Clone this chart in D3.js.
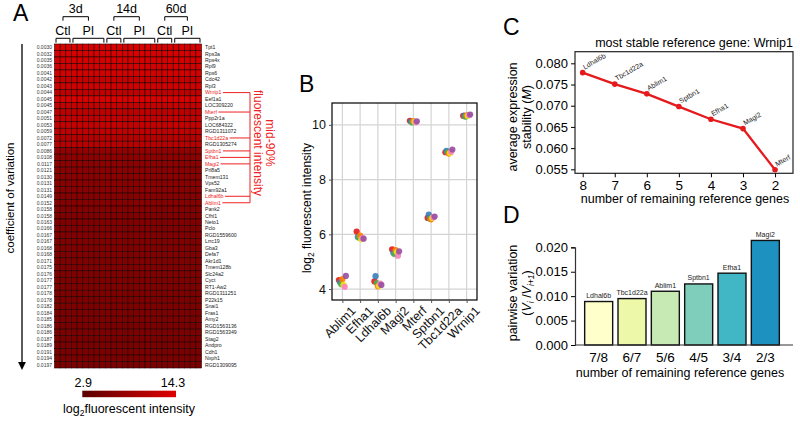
<!DOCTYPE html>
<html><head><meta charset="utf-8">
<script src="https://cdn.jsdelivr.net/npm/d3@7"></script>
<style>body{margin:0;background:#fff}svg{display:block;font-family:"Liberation Sans",Arial,sans-serif}</style>
</head><body><svg id="c" width="800" height="421"></svg>
<script>
// ---------- Panel A data ----------
const genes = ["Tpt1","Rps3a","Rps4x","Rpl9","Rps6","Cdc42","Rpl3","Wrnip1","Eef1a1","LOC309220","Mterf","Ppp2r1a","LOC684322","RGD1311072","Tbc1d22a","RGD1305274","Sptbn1","Efha1","Magi2","Prl8a5","Tmem131","Vps52","Fam92a1","Ldhal6b","Ablim1","Pank2","Cfhl1","Neto1","Pclo","RGD1559600","Lrrc19","Gba3","Defa7","Akr1d1","Tmem128b","Slc24a2","Cyct","RT1-Aw2","RGD1311251","P22k15","Snai1","Fras1","Amy2","RGD1563136","RGD1563349","Stag2","Andpro","Cdh1","Nxph1","RGD1309095"];
const cvLabels = ["0.0030","0.0032","0.0035","0.0036","0.0041","0.0042","0.0043","0.0044","0.0045","0.0045","0.0047","0.0051","0.0053","0.0059","0.0072","0.0077","0.0086","0.0108","0.0117","0.0121","0.0130","0.0131","0.0131","0.0149","0.0152","0.0158","0.0158","0.0163","0.0166","0.0167","0.0167","0.0168","0.0168","0.0171","0.0175","0.0176","0.0177","0.0177","0.0178","0.0178","0.0182","0.0184","0.0185","0.0186","0.0186","0.0187","0.0189","0.0191","0.0194","0.0197"];
const rowIntensity = [13.9,13.6,13.5,13.4,13.4,12.4,13.2,11.8,14.0,12.2,11.6,12.0,12.3,11.8,11.0,11.2,8.0,7.6,7.4,7.2,7.2,7.3,7.1,6.8,6.9,6.6,6.5,6.5,6.4,6.5,6.3,6.4,6.3,6.2,6.3,6.2,6.1,6.2,6.1,6.0,6.1,6.0,6.0,5.9,6.0,5.9,5.9,5.8,5.9,5.8];
const highlighted = ["Wrnip1","Mterf","Tbc1d22a","Sptbn1","Efha1","Magi2","Ldhal6b","Ablim1"];
const groupTimes = ["3d","3d","14d","14d","60d","60d"];
const groupConds = ["Ctl","PI","Ctl","PI","Ctl","PI"];
const groupSizes = [3,6,3,6,3,5];
const colorbarTicks = ["2.9","14.3"];
const colorDomain = [2.9, 14.3];

// ---------- Panel B data ----------
const refGenes = ["Ablim1","Efha1","Ldhal6b","Magi2","Mterf","Sptbn1","Tbc1d22a","Wrnip1"];
const sampleColors = ["#e41a1c","#377eb8","#4daf4a","#ff7f00","#f2e21a","#f781bf","#984ea3"];
const bValues = [
  [4.33,4.25,4.18,4.36,4.15,4.08,4.48],
  [6.10,5.90,5.88,5.95,5.82,5.86,5.84],
  [4.28,4.47,4.22,4.10,4.12,4.20,4.15],
  [5.45,5.32,5.28,5.42,5.35,5.22,5.38],
  [10.15,10.12,10.09,10.14,10.11,10.10,10.13],
  [6.60,6.72,6.57,6.55,6.60,6.62,6.65],
  [9.00,9.05,9.00,8.95,8.97,9.02,9.10],
  [10.33,10.34,10.30,10.35,10.33,10.36,10.38]
];
const bTicks = [4,6,8,10];

// ---------- Panel C data ----------
const cGenes = ["Ldhal6b","Tbc1d22a","Ablim1","Sptbn1","Efha1","Magi2","Mterf"];
const cNumbers = [8,7,6,5,4,3,2];
const cStability = [0.0778,0.0751,0.0728,0.0698,0.0668,0.0646,0.0549];
const cTicks = [0.055,0.060,0.065,0.070,0.075,0.080];

// ---------- Panel D data ----------
const dLabels = ["7/8","6/7","5/6","4/5","3/4","2/3"];
const dGenes = ["Ldhal6b","Tbc1d22a","Ablim1","Sptbn1","Efha1","Magi2"];
const dValues = [0.0089,0.0095,0.0110,0.0125,0.0147,0.0214];
const dColors = ["#ffffcc","#edf8a9","#c7e9b4","#7fcdbb","#41b6c4","#1d91c0"];
const dTicks = [0,0.005,0.010,0.015,0.020];

const RED = "#ee2222";
const svg = d3.select("#c");
svg.append("rect").attr("width",800).attr("height",421).attr("fill","#fff");

function panelLabel(t,x,y){svg.append("text").attr("x",x).attr("y",y).attr("font-size",23).text(t);}

// ================= Panel A =================
panelLabel("A",13,21);
const nCols = d3.sum(groupSizes);
const colIdx = d3.range(nCols);
const xA = d3.scaleBand().domain(colIdx).range([54.5,201.5]);
const yA = d3.scaleBand().domain(genes).range([44,368]);
const heatColor = d3.scaleLinear().domain(colorDomain).range(["#5a0000","#e00000"]);
const gA = svg.append("g");
genes.forEach((g,i)=>{
  gA.selectAll(null).data(colIdx).enter().append("rect")
    .attr("x",c=>xA(c)).attr("y",yA(g)).attr("width",xA.bandwidth()).attr("height",yA.bandwidth())
    .attr("fill",heatColor(rowIntensity[i])).attr("stroke","#220000").attr("stroke-width",0.6);
});
gA.selectAll(".cv").data(genes).enter().append("text")
  .attr("x",52).attr("y",g=>yA(g)+yA.bandwidth()/2+1.8).attr("text-anchor","end")
  .attr("font-size",5).attr("fill","#333").text((g,i)=>cvLabels[i]);
const geneText = gA.selectAll(".gn").data(genes).enter().append("text")
  .attr("x",205).attr("y",g=>yA(g)+yA.bandwidth()/2+1.8)
  .attr("font-size",5.2).attr("fill",g=>highlighted.includes(g)?RED:"#222").text(g=>g);
const bracketX = 250;
geneText.filter(g=>highlighted.includes(g)).each(function(g){
  const w = this.getComputedTextLength();
  gA.append("line").attr("x1",205+w+1.5).attr("x2",bracketX)
    .attr("y1",yA(g)+yA.bandwidth()/2).attr("y2",yA(g)+yA.bandwidth()/2)
    .attr("stroke",RED).attr("stroke-width",1);
});
const hY = highlighted.map(g=>yA(g)+yA.bandwidth()/2);
gA.append("line").attr("x1",bracketX).attr("x2",bracketX).attr("y1",d3.min(hY)).attr("y2",d3.max(hY))
  .attr("stroke",RED).attr("stroke-width",1);
const midT = gA.append("g").attr("transform",`translate(266,143) rotate(90)`);
midT.append("text").attr("text-anchor","middle").attr("y",0).attr("font-size",12).attr("fill",RED).text("mid-90%");
midT.append("text").attr("text-anchor","middle").attr("y",12).attr("font-size",12).attr("fill",RED).text("fluorescent intensity");

let start = 0;
const groupSpans = groupSizes.map(n=>{const s=start; start+=n; return [s,start-1];});
groupSpans.forEach((sp,i)=>{
  const x0 = xA(sp[0])+1.5, x1 = xA(sp[1])+xA.bandwidth()-1.5;
  gA.append("path").attr("d",`M${x0},42.7V38.3H${x1}V42.7`).attr("fill","none").attr("stroke","#000").attr("stroke-width",1);
  gA.append("text").attr("x",(x0+x1)/2).attr("y",35).attr("text-anchor","middle").attr("font-size",12.5).text(groupConds[i]);
});
const times = Array.from(new Set(groupTimes));
times.forEach(t=>{
  const idx = groupTimes.map((d,i)=>d===t?i:-1).filter(i=>i>=0);
  const cx = idx.map(i=>(xA(groupSpans[i][0])+xA(groupSpans[i][1])+xA.bandwidth())/2);
  const x0 = d3.min(cx), x1 = d3.max(cx);
  gA.append("path").attr("d",`M${x0},20.7V16.7H${x1}V20.7`).attr("fill","none").attr("stroke","#000").attr("stroke-width",1);
  gA.append("text").attr("x",(x0+x1)/2).attr("y",13.3).attr("text-anchor","middle").attr("font-size",12.5).text(t);
});
svg.append("defs").append("marker").attr("id","arr").attr("viewBox","0 0 10 10").attr("refX",5).attr("refY",5)
  .attr("markerWidth",6).attr("markerHeight",6).attr("orient","auto")
  .append("path").attr("d","M0,0L10,5L0,10z").attr("fill","#000");
gA.append("line").attr("x1",22).attr("x2",22).attr("y1",44).attr("y2",366).attr("stroke","#000").attr("stroke-width",1.3).attr("marker-end","url(#arr)");
gA.append("text").attr("transform","translate(14,198) rotate(-90)").attr("text-anchor","middle").attr("font-size",11.5).text("coefficient of variation");
const grad = svg.select("defs").append("linearGradient").attr("id","cbar");
grad.append("stop").attr("offset","0%").attr("stop-color",heatColor(colorDomain[0]));
grad.append("stop").attr("offset","100%").attr("stop-color",heatColor(colorDomain[1]));
const cbX = d3.scaleLinear().domain(colorDomain).range([82.3,176]);
gA.append("rect").attr("x",cbX(colorDomain[0])).attr("y",390.7).attr("width",cbX(colorDomain[1])-cbX(colorDomain[0])).attr("height",6.5).attr("fill","url(#cbar)");
gA.append("text").attr("x",cbX(colorDomain[0])+1).attr("y",386.5).attr("text-anchor","middle").attr("font-size",12.5).text(colorbarTicks[0]);
gA.append("text").attr("x",cbX(colorDomain[1])-3).attr("y",386.5).attr("text-anchor","middle").attr("font-size",12.5).text(colorbarTicks[1]);
const cbt = gA.append("text").attr("x",129).attr("y",413).attr("text-anchor","middle").attr("font-size",12.5);
cbt.append("tspan").text("log");
cbt.append("tspan").attr("font-size",8.5).attr("dy",3).text("2");
cbt.append("tspan").attr("dy",-3).text("fluorescent intensity");

// ================= Panel B =================
panelLabel("B",299,92);
const bL=332,bR=477,bT=103,bB=300;
const xB = d3.scalePoint().domain(refGenes).range([bL,bR]).padding(0.585);
const yB = d3.scaleLinear().domain([3.6,10.8]).range([bB,bT]);
const gB = svg.append("g");
gB.selectAll(".hg").data(bTicks).enter().append("line").attr("x1",bL).attr("x2",bR)
  .attr("y1",d=>yB(d)).attr("y2",d=>yB(d)).attr("stroke","#d4d4d4").attr("stroke-width",1.2);
gB.selectAll(".vg").data(refGenes).enter().append("line").attr("y1",bT).attr("y2",bB)
  .attr("x1",d=>xB(d)).attr("x2",d=>xB(d)).attr("stroke","#d4d4d4").attr("stroke-width",1.2);
const jit = d3.scalePoint().domain(d3.range(sampleColors.length)).range([-3.5,3.5]);
refGenes.forEach((g,i)=>{
  gB.selectAll(null).data(bValues[i]).enter().append("circle")
    .attr("cx",(v,j)=>xB(g)+jit(j)).attr("cy",v=>yB(v)).attr("r",3.1)
    .attr("fill",(v,j)=>sampleColors[j]).attr("fill-opacity",0.9);
});
gB.append("rect").attr("x",bL).attr("y",bT).attr("width",bR-bL).attr("height",bB-bT).attr("fill","none").attr("stroke","#000").attr("stroke-width",1.2);
const axBy = gB.append("g").attr("transform",`translate(${bL},0)`).call(d3.axisLeft(yB).tickValues(bTicks).tickSize(3).tickPadding(3));
axBy.select(".domain").remove();
axBy.selectAll("text").attr("font-size",12.5).attr("font-family","Liberation Sans, Arial, sans-serif").attr("fill","#111");
axBy.selectAll("line").attr("stroke","#555");
const axBx = gB.append("g").attr("transform",`translate(0,${bB})`).call(d3.axisBottom(xB).tickSize(3).tickPadding(3));
axBx.select(".domain").remove();
axBx.selectAll("line").attr("stroke","#555");
axBx.selectAll("text").attr("font-size",12.5).attr("font-family","Liberation Sans, Arial, sans-serif").attr("fill","#111")
  .attr("text-anchor","end").attr("transform","translate(4,2) rotate(-45)").attr("dy","0.6em");
const bt = gB.append("text").attr("transform","translate(311,208) rotate(-90)").attr("text-anchor","middle").attr("font-size",12);
bt.append("tspan").text("log");
bt.append("tspan").attr("font-size",8.5).attr("dy",3).text("2");
bt.append("tspan").attr("dy",-3).text(" fluorescent intensity");

// ================= Panel C =================
panelLabel("C",503,35);
const cL=575,cR=793,cT=51.7,cB=173.3;
const xC = d3.scaleLinear().domain([8.24,1.44]).range([cL,cR]);
const yC = d3.scaleLinear().domain([0.05406,0.08274]).range([cB,cT]);
const gC = svg.append("g");
gC.append("rect").attr("x",cL).attr("y",cT).attr("width",cR-cL).attr("height",cB-cT).attr("fill","none").attr("stroke","#222").attr("stroke-width",1.2);
const axCy = gC.append("g").attr("transform",`translate(${cL},0)`).call(d3.axisLeft(yC).tickValues(cTicks).tickFormat(d3.format(".3f")).tickSize(4).tickPadding(3));
axCy.select(".domain").remove();
axCy.selectAll("text").attr("font-size",13).attr("font-family","Liberation Sans, Arial, sans-serif");
const axCx = gC.append("g").attr("transform",`translate(0,${cB})`).call(d3.axisBottom(xC).tickValues(cNumbers).tickFormat(d3.format("d")).tickSize(4).tickPadding(3));
axCx.select(".domain").remove();
axCx.selectAll("text").attr("font-size",13.5).attr("font-family","Liberation Sans, Arial, sans-serif");
const lineC = d3.line().x((d,i)=>xC(cNumbers[i])).y(d=>yC(d));
gC.append("path").attr("d",lineC(cStability)).attr("fill","none").attr("stroke","#e41a1c").attr("stroke-width",2.3);
gC.selectAll(".pt").data(cStability).enter().append("circle").attr("cx",(d,i)=>xC(cNumbers[i])).attr("cy",d=>yC(d)).attr("r",2.8).attr("fill","#e41a1c");
gC.selectAll(".lb").data(cStability).enter().append("text")
  .attr("transform",(d,i)=>`translate(${xC(cNumbers[i])+2},${yC(d)-3}) rotate(-30)`)
  .attr("font-size",7).attr("fill","#222").text((d,i)=>cGenes[i]);
gC.append("text").attr("x",793).attr("y",46.5).attr("text-anchor","end").attr("font-size",12.5).text("most stable reference gene: Wrnip1");
gC.append("text").attr("x",685).attr("y",203).attr("text-anchor","middle").attr("font-size",12.5).text("number of remaining reference genes");
const ct = gC.append("g").attr("transform","translate(517,117) rotate(-90)");
ct.append("text").attr("text-anchor","middle").attr("font-size",12.5).text("average expression");
const ct2 = ct.append("text").attr("text-anchor","middle").attr("y",14).attr("font-size",12.5);
ct2.append("tspan").text("stability (");
ct2.append("tspan").attr("font-style","italic").text("M");
ct2.append("tspan").text(")");

// ================= Panel D =================
panelLabel("D",503,223);
const dL=575,dR=793,dBase=345;
const xD = d3.scaleBand().domain(dLabels).range([582,782]).paddingInner(0.16).paddingOuter(0.08);
const yD = d3.scaleLinear().domain([0,0.020]).range([dBase,247.3]);
const gD = svg.append("g");
gD.selectAll(".bar").data(dValues).enter().append("rect")
  .attr("x",(d,i)=>xD(dLabels[i])).attr("y",d=>yD(d)).attr("width",xD.bandwidth()).attr("height",d=>dBase-yD(d))
  .attr("fill",(d,i)=>dColors[i]).attr("stroke","#111").attr("stroke-width",1.4);
gD.selectAll(".bl").data(dValues).enter().append("text")
  .attr("x",(d,i)=>xD(dLabels[i])+xD.bandwidth()/2).attr("y",d=>yD(d)-3.5).attr("text-anchor","middle")
  .attr("font-size",7).attr("fill","#222").text((d,i)=>dGenes[i]);
const axDy = gD.append("g").attr("transform",`translate(${dL},0)`).call(d3.axisLeft(yD).tickValues(dTicks).tickFormat(d3.format(".3f")).tickSize(4).tickPadding(3));
axDy.selectAll("text").attr("font-size",13).attr("font-family","Liberation Sans, Arial, sans-serif");
axDy.select(".domain").attr("stroke","#333").attr("stroke-width",1.2);
gD.append("line").attr("x1",dL).attr("x2",dR).attr("y1",dBase).attr("y2",dBase).attr("stroke","#333").attr("stroke-width",1.2);
gD.selectAll(".xl").data(dLabels).enter().append("text")
  .attr("x",d=>xD(d)+xD.bandwidth()/2).attr("y",362).attr("text-anchor","middle").attr("font-size",13.5).text(d=>d);
gD.append("text").attr("x",680).attr("y",377).attr("text-anchor","middle").attr("font-size",12.5).text("number of remaining reference genes");
const dt = gD.append("g").attr("transform","translate(517,293) rotate(-90)");
dt.append("text").attr("text-anchor","middle").attr("font-size",12.5).text("pairwise variation");
const dt2 = dt.append("text").attr("text-anchor","middle").attr("y",14).attr("font-size",12.5);
dt2.append("tspan").text("(");
dt2.append("tspan").attr("font-style","italic").text("V");
dt2.append("tspan").attr("font-style","italic").attr("font-size",8.5).attr("dy",3).text("i");
dt2.append("tspan").attr("dy",-3).text(" /");
dt2.append("tspan").attr("font-style","italic").text("V");
dt2.append("tspan").attr("font-style","italic").attr("font-size",8.5).attr("dy",3).text("i+1");
dt2.append("tspan").attr("dy",-3).text(")");
</script></body></html>
